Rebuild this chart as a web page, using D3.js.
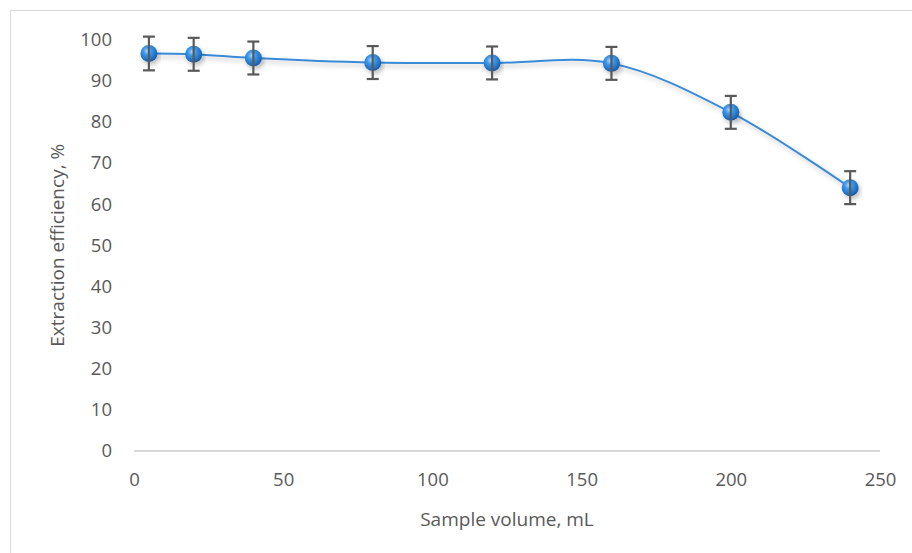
<!DOCTYPE html>
<html>
<head>
<meta charset="utf-8">
<script src="https://cdn.jsdelivr.net/npm/d3@7"></script>
<style>
    body { margin: 0; background: #fff; }
    text { font-family: "Open Sans", sans-serif; fill: #595959; }
</style>
</head>
<body>
<div id="chart"></div>
<script>

// sample volume (mL) and extraction efficiency (%)
let volumes = [5, 20, 40, 80, 120, 160, 200, 240];
let efficiency = [96.6, 96.4, 95.5, 94.4, 94.3, 94.2, 82.3, 64.0];
let errors = [4.1, 4.0, 4.0, 4.0, 4.0, 4.0, 4.0, 4.0];
let xTicks = [0, 50, 100, 150, 200, 250];
let yTicks = [0, 10, 20, 30, 40, 50, 60, 70, 80, 90, 100];

let data = volumes.map((v, i) => ({ x: v, y: efficiency[i], err: errors[i] }));

let W = 912, H = 553;
let margin = { top: 39.5, right: 32, bottom: 102, left: 134 };
let width = W - margin.left - margin.right;
let height = H - margin.top - margin.bottom;

let root = d3.select("#chart").append("svg")
    .attr("width", W)
    .attr("height", H);

// chart frame
root.append("rect")
    .attr("x", 10.5).attr("y", 10.5)
    .attr("width", 920).attr("height", 560)
    .attr("fill", "none")
    .attr("stroke", "#d9d9d9");

let defs = root.append("defs");

let grad = defs.append("radialGradient")
    .attr("id", "ball")
    .attr("cx", "40%").attr("cy", "35%").attr("r", "65%");
grad.append("stop").attr("offset", "0%").attr("stop-color", "#a8d6ff");
grad.append("stop").attr("offset", "35%").attr("stop-color", "#3c98ea");
grad.append("stop").attr("offset", "85%").attr("stop-color", "#1f6cbf");
grad.append("stop").attr("offset", "100%").attr("stop-color", "#17569c");

let shadow = defs.append("filter").attr("id", "shadow")
    .attr("x", "-20%").attr("y", "-50%").attr("width", "140%").attr("height", "200%");
shadow.append("feGaussianBlur").attr("in", "SourceAlpha").attr("stdDeviation", 2.5);
shadow.append("feOffset").attr("dx", 2).attr("dy", 3).attr("result", "blur");
shadow.append("feComponentTransfer").append("feFuncA").attr("type", "linear").attr("slope", 0.25);
let merge = shadow.append("feMerge");
merge.append("feMergeNode");
merge.append("feMergeNode").attr("in", "SourceGraphic");

let svg = root.append("g")
    .attr("transform", "translate(" + margin.left + "," + margin.top + ")");

// Scales and axes
let x = d3.scaleLinear().domain([0, 250]).range([0, width]);
let y = d3.scaleLinear().domain([0, 100]).range([height, 0]);

let xAxis = d3.axisBottom(x).tickValues(xTicks).tickSize(0).tickPadding(22);
let yAxis = d3.axisLeft(y).tickValues(yTicks).tickSize(0).tickPadding(22);

svg.append("g")
    .attr("class", "x-axis")
    .attr("transform", "translate(0," + height + ")")
    .call(xAxis);

svg.append("g")
    .attr("class", "y-axis")
    .call(yAxis);

svg.selectAll(".domain").remove();
svg.selectAll(".tick text")
    .style("font-size", "18.5px");

// baseline
svg.append("line")
    .attr("x1", 0).attr("x2", width)
    .attr("y1", y(0)).attr("y2", y(0))
    .attr("stroke", "#d9d9d9")
    .attr("stroke-width", 2);

// Axis titles
svg.append("text")
    .attr("x", width / 2)
    .attr("y", height + 75)
    .attr("text-anchor", "middle")
    .style("font-size", "19px")
    .text("Sample volume, mL");

svg.append("text")
    .attr("transform", "rotate(-90)")
    .attr("x", -height / 2)
    .attr("y", -70)
    .attr("text-anchor", "middle")
    .style("font-size", "19px")
    .text("Extraction efficiency, %");

// smoothed line
let line = d3.line()
    .x(d => x(d.x))
    .y(d => y(d.y))
    .curve(d3.curveCatmullRom.alpha(0.5));

svg.append("path")
    .datum(data)
    .attr("d", line)
    .attr("fill", "none")
    .attr("stroke", "#3a8ad6")
    .attr("stroke-width", 2)
    .attr("filter", "url(#shadow)");

// markers
svg.selectAll(".dot")
    .data(data)
    .enter()
    .append("circle")
    .attr("class", "dot")
    .attr("cx", d => x(d.x))
    .attr("cy", d => y(d.y))
    .attr("r", 8.5)
    .attr("fill", "url(#ball)")
    .attr("filter", "url(#shadow)");

// error bars
let bars = svg.selectAll(".err")
    .data(data)
    .enter()
    .append("g")
    .attr("class", "err")
    .attr("stroke", "#595959")
    .attr("stroke-width", 2.2);

bars.append("line")
    .attr("x1", d => x(d.x)).attr("x2", d => x(d.x))
    .attr("y1", d => y(d.y + d.err)).attr("y2", d => y(d.y - d.err));
bars.append("line")
    .attr("x1", d => x(d.x) - 6).attr("x2", d => x(d.x) + 6)
    .attr("y1", d => y(d.y + d.err)).attr("y2", d => y(d.y + d.err));
bars.append("line")
    .attr("x1", d => x(d.x) - 6).attr("x2", d => x(d.x) + 6)
    .attr("y1", d => y(d.y - d.err)).attr("y2", d => y(d.y - d.err));

</script>
</body>
</html>
